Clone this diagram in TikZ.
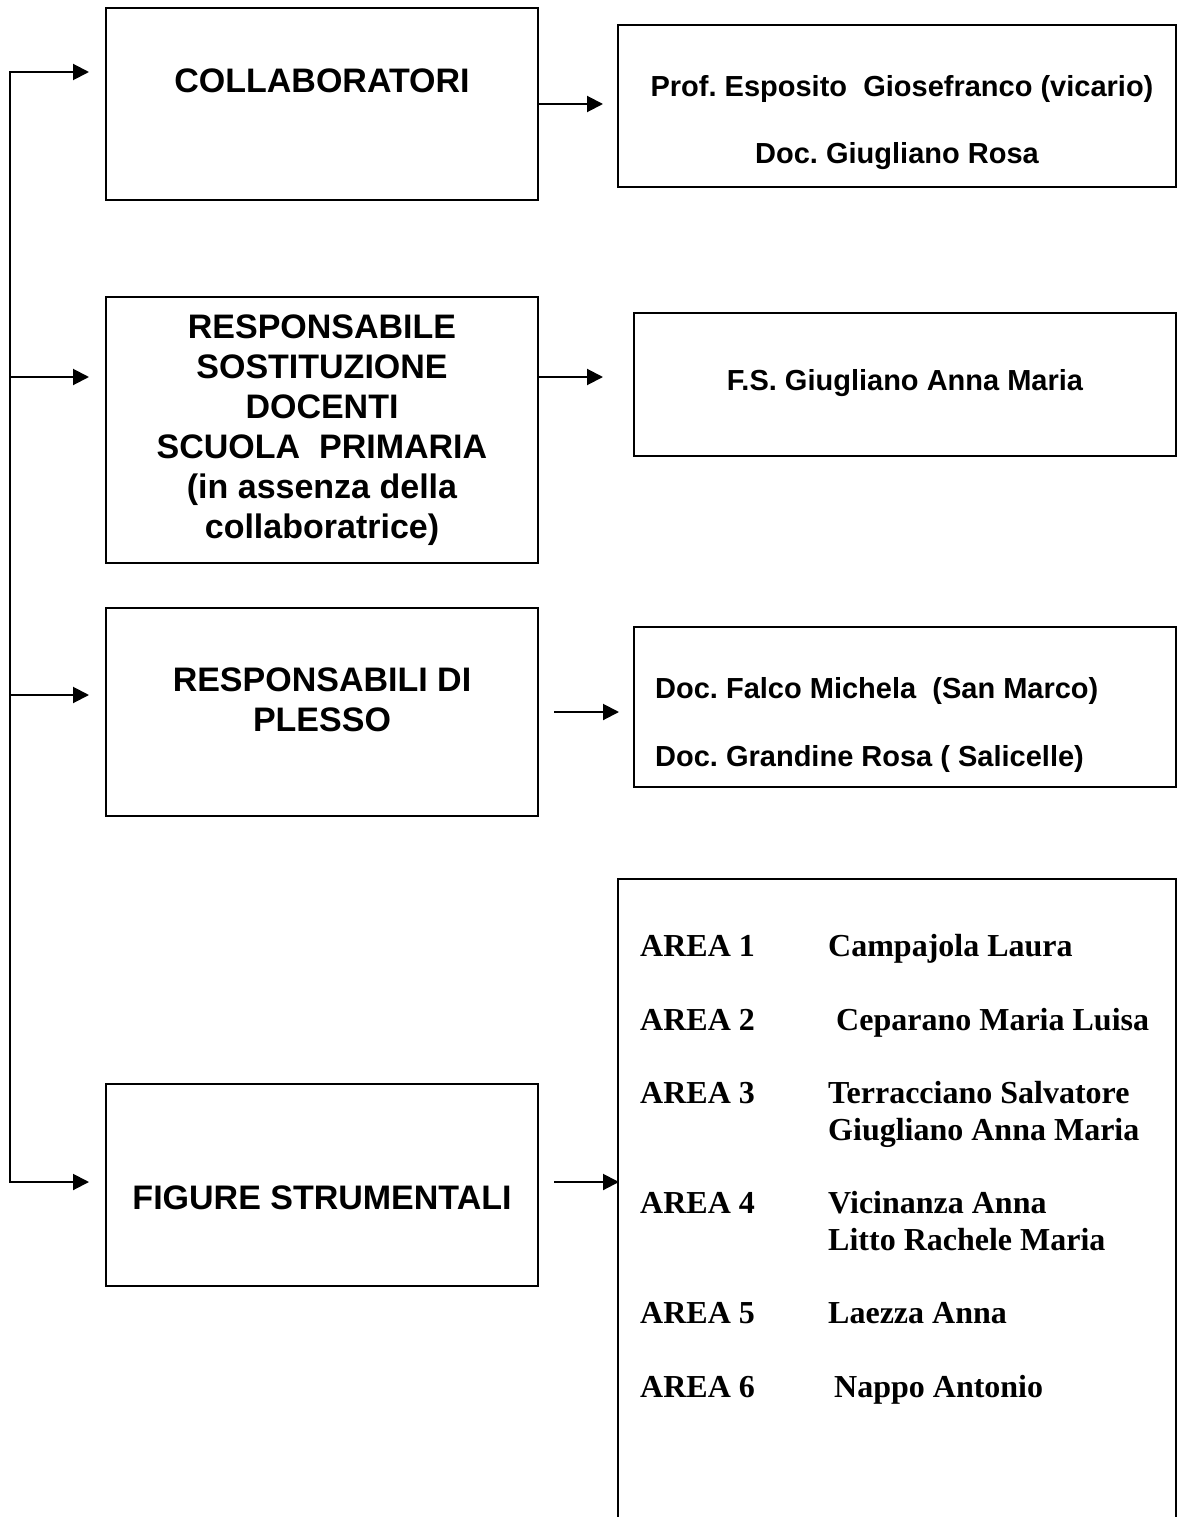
\documentclass[tikz,border=0pt]{standalone}
\usepackage{fontspec}
\setmainfont{Liberation Sans}
\newfontfamily\serifbf{Liberation Serif}
\usetikzlibrary{arrows.meta}
\frenchspacing
\begin{document}
\begin{tikzpicture}[x=1pt,y=-1pt,
  box/.style={draw, line width=2pt, inner sep=0pt},
  arr/.style={line width=2pt, -{Triangle[length=16pt,width=16pt]}},
  big/.style={font=\fontsize{34}{40}\selectfont\bfseries, align=center, inner sep=0pt},
  bigone/.style={font=\fontsize{34}{40}\selectfont\bfseries, inner sep=0pt, text height=24.3pt, text depth=0pt},
  mid/.style={font=\fontsize{29}{34}\selectfont\bfseries, inner sep=0pt, text height=20.8pt, text depth=0pt},
  ser/.style={font=\fontsize{32}{36}\serifbf\bfseries, inner sep=0pt, text height=21.2pt, text depth=0pt, anchor=west}
]
\useasboundingbox (0,0) rectangle (1180,1517);
\clip (0,0) rectangle (1180,1517);

% left boxes
\node[box, minimum width=432pt, minimum height=192pt] (b1) at (322,104) {};
\node[box, minimum width=432pt, minimum height=266pt] (b2) at (322,430) {};
\node[box, minimum width=432pt, minimum height=208pt] (b3) at (322,712) {};
\node[box, minimum width=432pt, minimum height=202pt] (b4) at (322,1185) {};

% right boxes
\node[box, minimum width=558pt, minimum height=162pt] (r1) at (897,106) {};
\node[box, minimum width=542pt, minimum height=143pt] (r2) at (905,384.5) {};
\node[box, minimum width=542pt, minimum height=160pt] (r3) at (905,707) {};
\node[box, minimum width=558pt, minimum height=661pt] (r4) at (897,1209.5) {};

% texts left
\node[bigone] (t1) at (322,80) {COLLABORATORI};
\node[big] (t2) at (322,430) {RESPONSABILE\\SOSTITUZIONE\\DOCENTI\\SCUOLA\ \ PRIMARIA\\(in assenza della\\collaboratrice)};
\node[big] (t3) at (322,700) {RESPONSABILI DI\\PLESSO};
\node[bigone] (t4) at (322,1197) {FIGURE STRUMENTALI};

% texts right
\node[mid] (u1a) at (902,86) {Prof. Esposito\ \ Giosefranco (vicario)};
\node[mid] (u1b) at (897,153) {Doc. Giugliano Rosa};
\node[mid] (u2) at (905,380) {F.S. Giugliano Anna Maria};
\node[mid, anchor=west] (u3a) at (655,688) {Doc. Falco Michela\ \ (San Marco)};
\node[mid, anchor=west] (u3b) at (655,756) {Doc. Grandine Rosa ( Salicelle)};

\node[ser] (a1) at (640,946) {AREA 1};
\node[ser] (n1) at (828,946) {Campajola Laura};
\node[ser] (a2) at (640,1020) {AREA 2};
\node[ser] (n2) at (836,1020) {Ceparano Maria Luisa};
\node[ser] (a3) at (640,1093) {AREA 3};
\node[ser] (n3a) at (828,1093) {Terracciano Salvatore};
\node[ser] (n3b) at (828,1130) {Giugliano Anna Maria};
\node[ser] (a4) at (640,1203) {AREA 4};
\node[ser] (n4a) at (828,1203) {Vicinanza Anna};
\node[ser] (n4b) at (828,1240) {Litto Rachele Maria};
\node[ser] (a5) at (640,1313) {AREA 5};
\node[ser] (n5) at (828,1313) {Laezza Anna};
\node[ser] (a6) at (640,1387) {AREA 6};
\node[ser] (n6) at (834,1387) {Nappo Antonio};

% left spine coordinates
\coordinate (L1) at (10,72);
\coordinate (L2) at (10,377);
\coordinate (L3) at (10,695);
\coordinate (L4) at (10,1182);
\coordinate (E1) at (89,72);
\coordinate (E2) at (89,377);
\coordinate (E3) at (89,695);
\coordinate (E4) at (89,1182);
\draw[line width=2pt, line cap=rect] (L1) -- (L4);
\draw[arr] (L1) -- (E1);
\draw[arr] (L2) -- (E2);
\draw[arr] (L3) -- (E3);
\draw[arr] (L4) -- (E4);

% right arrows
\coordinate (S1) at (538,104);  \coordinate (F1) at (603,104);
\coordinate (S2) at (538,377);  \coordinate (F2) at (603,377);
\coordinate (S3) at (554,712);  \coordinate (F3) at (619,712);
\coordinate (S4) at (554,1182); \coordinate (F4) at (619,1182);
\draw[arr] (S1) -- (F1);
\draw[arr] (S2) -- (F2);
\draw[arr] (S3) -- (F3);
\draw[arr] (S4) -- (F4);
\end{tikzpicture}
\end{document}
